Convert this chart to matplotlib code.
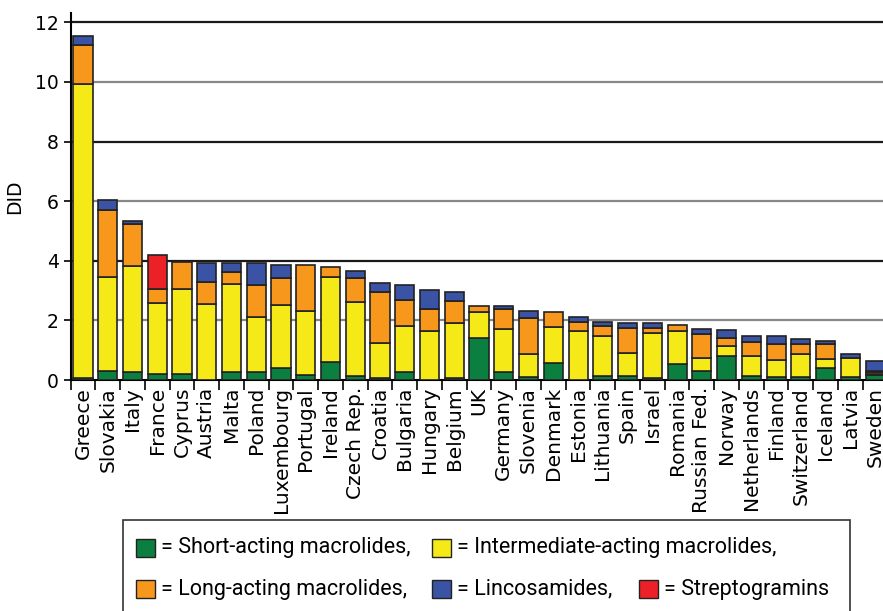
import numpy as np
import matplotlib
matplotlib.use("Agg")
import matplotlib.pyplot as plt
from matplotlib.patches import Rectangle

countries = ["Greece", "Slovakia", "Italy", "France", "Cyprus", "Austria", "Malta", "Poland",
             "Luxembourg", "Portugal", "Ireland", "Czech Rep.", "Croatia", "Bulgaria", "Hungary",
             "Belgium", "UK", "Germany", "Slovenia", "Denmark", "Estonia", "Lithuania", "Spain",
             "Israel", "Romania", "Russian Fed.", "Norway", "Netherlands", "Finland",
             "Switzerland", "Iceland", "Latvia", "Sweden"]
short = [0.08, 0.30, 0.27, 0.20, 0.20, 0.00, 0.26, 0.26, 0.42, 0.17, 0.61, 0.13, 0.08, 0.26,
         0.00, 0.08, 1.42, 0.27, 0.11, 0.57, 0.00, 0.13, 0.15, 0.08, 0.53, 0.31, 0.82, 0.12,
         0.11, 0.09, 0.40, 0.10, 0.17]
intermediate = [9.85, 3.15, 3.55, 2.37, 2.87, 2.56, 2.96, 1.87, 2.10, 2.14, 2.86, 2.48, 1.16,
                1.56, 1.66, 1.82, 0.86, 1.45, 0.78, 1.21, 1.66, 1.36, 0.75, 1.49, 1.11, 0.44,
                0.31, 0.68, 0.56, 0.80, 0.30, 0.65, 0.02]
long_ = [1.32, 2.24, 1.41, 0.47, 0.90, 0.72, 0.41, 1.06, 0.91, 1.54, 0.31, 0.81, 1.71, 0.87,
         0.71, 0.75, 0.20, 0.66, 1.20, 0.50, 0.29, 0.31, 0.86, 0.17, 0.20, 0.81, 0.29, 0.49,
         0.53, 0.33, 0.51, 0.00, 0.07]
strepto = [0.0, 0.0, 0.0, 1.15, 0.0, 0.0, 0.0, 0.0, 0.0, 0.0, 0.0, 0.0, 0.0, 0.0, 0.0, 0.0,
           0.0, 0.0, 0.0, 0.0, 0.0, 0.0, 0.0, 0.0, 0.0, 0.0, 0.0, 0.0, 0.0, 0.0, 0.0, 0.0, 0.05]
linco = [0.29, 0.36, 0.11, 0.00, 0.00, 0.64, 0.29, 0.73, 0.44, 0.00, 0.00, 0.24, 0.29, 0.49,
         0.66, 0.30, 0.00, 0.10, 0.24, 0.00, 0.15, 0.15, 0.15, 0.17, 0.00, 0.15, 0.25, 0.20,
         0.28, 0.15, 0.11, 0.14, 0.32]

series = [short, intermediate, long_, strepto, linco]
colors = ["#0a7f3f", "#f5e918", "#f7981d", "#ec2027", "#3a53a4"]

fig = plt.figure(figsize=(8.83, 6.11), dpi=100)
ax = fig.add_axes([0.080, 0.378, 0.925, 0.600])

x = np.arange(len(countries))
bottom = np.zeros(len(countries))
for vals, c in zip(series, colors):
    vals = np.array(vals)
    m = vals > 0
    ax.bar(x[m], vals[m], bottom=bottom[m], width=0.77, color=c,
           edgecolor="#222222", linewidth=1.2, zorder=3)
    bottom += vals

ax.set_xlim(-0.5, 32.42)
ax.set_ylim(0, 12.3)
for y in [2, 4, 6, 8, 10, 12]:
    ax.axhline(y, color="#1a1a1a" if y % 4 == 0 else "#888888", lw=1.6, zorder=1)

ax.set_yticks([0, 2, 4, 6, 8, 10, 12])
ax.tick_params(axis="y", labelsize=13.5, length=5, width=1.2)
ax.set_xticks(x)
ax.set_xticklabels(countries, rotation=90, fontsize=14.5)
ax.tick_params(axis="x", length=0, pad=5)
ax.set_xticks(np.arange(-0.5, len(countries), 1), minor=True)
ax.tick_params(axis="x", which="minor", length=7, width=1.2)
ax.set_ylabel("DID", fontsize=13.5, labelpad=8)
for s in ["top", "right"]:
    ax.spines[s].set_visible(False)
ax.spines["left"].set_linewidth(1.5)
ax.spines["bottom"].set_linewidth(1.5)

# legend box
W, H = 883.0, 611.0
fig.patches.append(Rectangle((123 / W, -0.05), (850 - 123) / W, 0.05 + (H - 520) / H,
                             transform=fig.transFigure, fill=False, edgecolor="#333333", lw=1.2))
items = [
    (136, 548, colors[0], "= Short-acting macrolides,"),
    (432, 548, colors[1], "= Intermediate-acting macrolides,"),
    (136, 589, colors[2], "= Long-acting macrolides,"),
    (432, 589, colors[4], "= Lincosamides,"),
    (639, 589, colors[3], "= Streptogramins"),
]
for px, py, c, label in items:
    fig.patches.append(Rectangle((px / W, 1 - (py + 9) / H), 19 / W, 18 / H,
                                 transform=fig.transFigure, facecolor=c,
                                 edgecolor="#222222", lw=1.0))
    fig.text((px + 25) / W, 1 - py / H, label, fontsize=15.5, va="center", ha="left",
             family="Roboto")

fig.savefig("out.png", dpi=100)
